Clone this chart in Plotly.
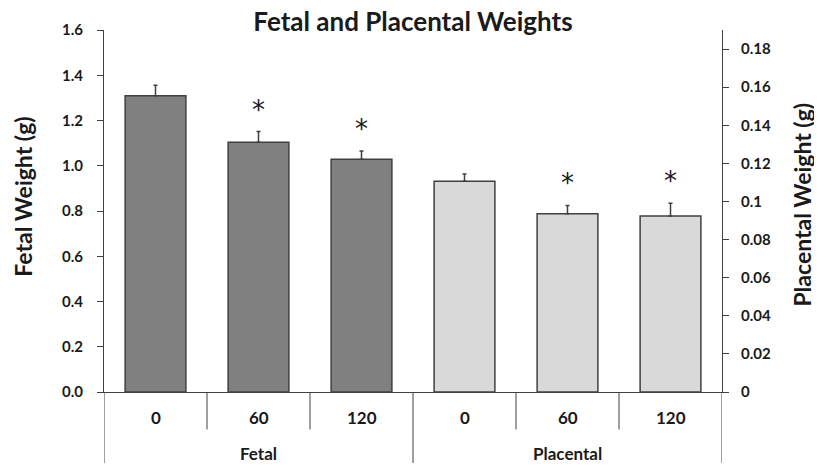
import plotly.graph_objects as go

# ---- data ----
dose_labels = ["0", "60", "120"]
group_labels = ["Fetal", "Placental"]
fetal_mean = [1.309, 1.104, 1.029]
fetal_se = [0.047, 0.047, 0.036]
placental_mean = [0.1106, 0.0936, 0.0924]
placental_se = [0.0038, 0.0043, 0.0067]
fetal_sig = [False, True, True]
placental_sig = [False, True, True]

left_ticks = [0.0, 0.2, 0.4, 0.6, 0.8, 1.0, 1.2, 1.4, 1.6]
right_ticks = [0, 0.02, 0.04, 0.06, 0.08, 0.1, 0.12, 0.14, 0.16, 0.18]

FONT = "Lato"
AX = "#404040"
TXT = "#1a1a1a"

# figure sits inside the page's 8px body margin (822x472 viewport)
W, H = 806, 456
ML, MR, MT, MB = 96, 92, 17, 72
PH = H - MT - MB
PW = W - ML - MR

fx = list(range(len(fetal_mean)))
px = [len(fetal_mean) + i for i in range(len(placental_mean))]

fig = go.Figure()
fig.add_trace(go.Bar(
    x=fx, y=fetal_mean, yaxis="y", width=0.59,
    marker=dict(color="#808080", line=dict(color=AX, width=1.5)),
    error_y=dict(type="data", array=fetal_se, arrayminus=[0]*3, symmetric=False,
                 color=AX, thickness=1.5, width=2),
    showlegend=False,
))
fig.add_trace(go.Bar(
    x=px, y=placental_mean, yaxis="y2", width=0.59,
    marker=dict(color="#d9d9d9", line=dict(color=AX, width=1.5)),
    error_y=dict(type="data", array=placental_se, arrayminus=[0]*3, symmetric=False,
                 color=AX, thickness=1.5, width=2),
    showlegend=False,
))

star_font = dict(size=26, family="DejaVu Sans", color=TXT)
ann = []
for x, m, s, sig in zip(fx, fetal_mean, fetal_se, fetal_sig):
    if sig:
        ann.append(dict(x=x, y=m + s, xref="x", yref="y", text="*", showarrow=False,
                        yanchor="middle", yshift=22, font=star_font))
for x, m, s, sig in zip(px, placental_mean, placental_se, placental_sig):
    if sig:
        ann.append(dict(x=x, y=m + s, xref="x", yref="y2", text="*", showarrow=False,
                        yanchor="middle", yshift=22, font=star_font))

lab_font = dict(size=17, family=FONT, color=TXT, weight="bold")
all_x = fx + px
for i, x in enumerate(all_x):
    ann.append(dict(x=x, y=-26 / PH, xref="x", yref="paper", text=dose_labels[i % 3],
                    showarrow=False, yanchor="middle", font=lab_font))
ann.append(dict(x=(fx[0] + fx[-1]) / 2, y=-62 / PH, xref="x", yref="paper", text=group_labels[0],
                showarrow=False, yanchor="middle", font=lab_font))
ann.append(dict(x=(px[0] + px[-1]) / 2, y=-62 / PH, xref="x", yref="paper", text=group_labels[1],
                showarrow=False, yanchor="middle", font=lab_font))

# axis titles (positions in figure pixels)
ttl_font = dict(size=23, family=FONT, color=TXT, weight="bold")
ann.append(dict(x=(15 - ML) / PW, y=(PH - (186 - MT)) / PH, xref="paper", yref="paper",
                text="Fetal Weight (g)", textangle=-90, showarrow=False,
                xanchor="center", yanchor="middle", font=ttl_font))
ann.append(dict(x=(794 - ML) / PW, y=(PH - (194 - MT)) / PH, xref="paper", yref="paper",
                text="Placental Weight (g)", textangle=-90, showarrow=False,
                xanchor="center", yanchor="middle", font=ttl_font))

shapes = []
for b in [0.5, 1.5, 3.5, 4.5]:
    shapes.append(dict(type="line", xref="x", yref="paper", x0=b, x1=b, y0=0, y1=-38 / PH,
                       line=dict(color=AX, width=1)))
for b in [-0.5, 2.5, 5.5]:
    shapes.append(dict(type="line", xref="x", yref="paper", x0=b, x1=b, y0=0, y1=-MB / PH,
                       line=dict(color=AX, width=1)))

tick_font = dict(size=15, family=FONT, color=TXT, weight="bold")
fig.update_layout(
    width=W, height=H,
    margin=dict(l=ML, r=MR, t=MT, b=MB),
    paper_bgcolor="white", plot_bgcolor="white",
    barmode="overlay",
    title=dict(text="Fetal and Placental Weights", x=0.5, xref="paper", xanchor="center",
               y=1 - 14 / H, yanchor="middle",
               font=dict(size=26, family=FONT, color=TXT, weight="bold")),
    xaxis=dict(range=[-0.5, 5.5], showticklabels=False, ticks="", showgrid=False,
               zeroline=False, showline=True, linecolor=AX, linewidth=1, fixedrange=True),
    yaxis=dict(range=[0, 1.6], tickvals=left_ticks, tickformat=".1f", ticks="outside",
               ticklen=6, tickcolor=AX, showline=True, linecolor=AX, linewidth=1,
               showgrid=False, zeroline=False, ticklabelstandoff=11,
               tickfont=tick_font),
    yaxis2=dict(range=[0, 0.19], tickvals=right_ticks, overlaying="y", side="right",
                ticks="outside", ticklen=6, tickcolor=AX, showline=True, linecolor=AX,
                linewidth=1, showgrid=False, zeroline=False, ticklabelstandoff=9,
                tickfont=tick_font),
    annotations=ann,
    shapes=shapes,
)

fig.write_html("out.html")
